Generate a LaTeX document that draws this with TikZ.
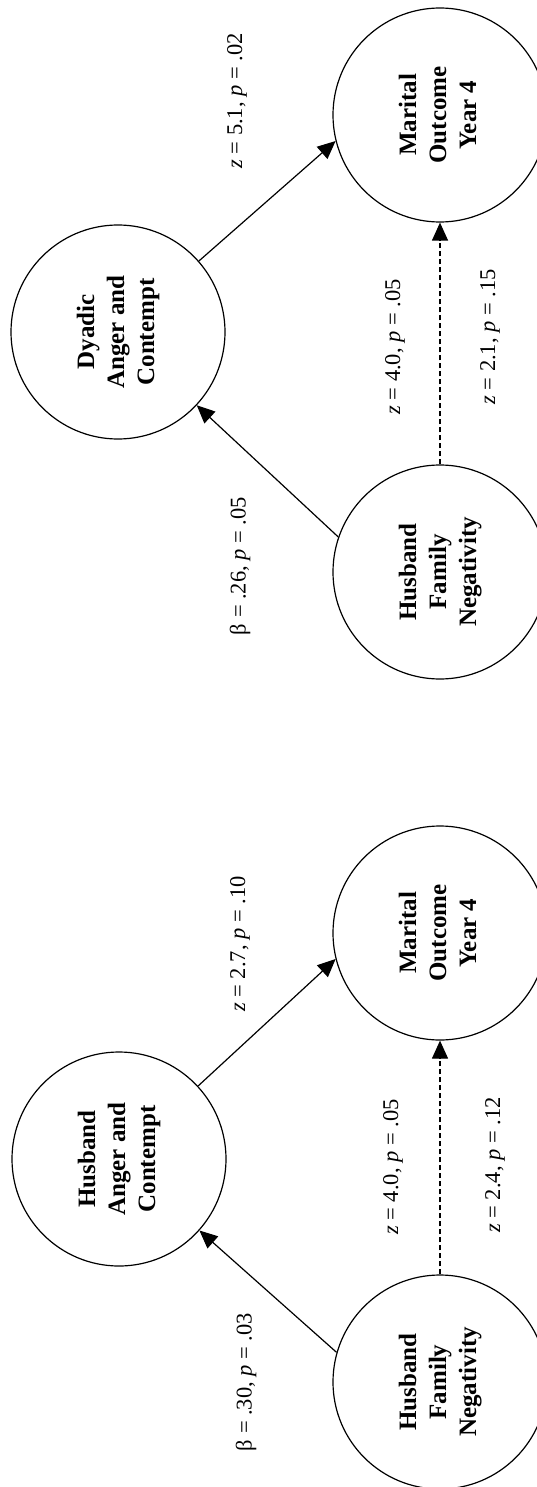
\documentclass[tikz,border=0pt]{standalone}
\usepackage{graphicx}
\usepackage{fontspec}
\setmainfont{Liberation Serif}
\usetikzlibrary{arrows.meta}
\newcommand{\turned}[1]{\rotatebox{90}{\begin{tabular}{@{}c@{}}#1\end{tabular}}}
\begin{document}
\begin{tikzpicture}
    [x=1pt,y=1pt,
    node/.style={shape=circle,draw=black,minimum size=214pt,inner sep=0pt,line width=1.2pt,font=\fontsize{25}{30}\selectfont\bfseries},
    lab/.style={rotate=90,inner sep=0pt,font=\fontsize{22.5}{26}\selectfont},
    arc/.style={-{Triangle[length=18pt,width=16pt]},line width=1.2pt},
    dasharc/.style={arc,dash pattern=on 5pt off 3pt}]

    \useasboundingbox (0,0) rectangle (537,-1487);
    \clip (0,0) rectangle (537,-1487);

    % upper model
    \node (1) [node] at (440,-115) {\turned{Marital\\Outcome\\Year 4}};
    \node (2) [node] at (118,-332) {\turned{Dyadic\\Anger and\\Contempt}};
    \node (3) [node] at (440,-572) {\turned{Husband\\Family\\Negativity}};
    % lower model
    \node (4) [node] at (440,-933) {\turned{Marital\\Outcome\\Year 4}};
    \node (5) [node] at (119,-1159) {\turned{Husband\\Anger and\\Contempt}};
    \node (6) [node] at (440,-1382) {\turned{Husband\\Family\\Negativity}};

    \draw [arc] (2) to (1.194);
    \draw [arc] (3.161) to (2);
    \draw [dasharc] (3) to (1);
    \draw [arc] (5) to (4.194);
    \draw [arc] (6.164) to (5);
    \draw [dasharc] (6) to (4);

    \node (z1) [lab] at (237,-101) {\textit{z} = 5.1, \textit{p} = .02};
    \node (b1) [lab] at (240,-566) {β = .26, \textit{p} = .05};
    \node (z2) [lab] at (395,-347) {\textit{z} = 4.0, \textit{p} = .05};
    \node (z3) [lab] at (490,-337) {\textit{z} = 2.1, \textit{p} = .15};
    \node (z4) [lab] at (240,-944) {\textit{z} = 2.7, \textit{p} = .10};
    \node (b2) [lab] at (246,-1382) {β = .30, \textit{p} = .03};
    \node (z5) [lab] at (393,-1167) {\textit{z} = 4.0, \textit{p} = .05};
    \node (z6) [lab] at (495,-1165) {\textit{z} = 2.4, \textit{p} = .12};

\end{tikzpicture}
\end{document}
